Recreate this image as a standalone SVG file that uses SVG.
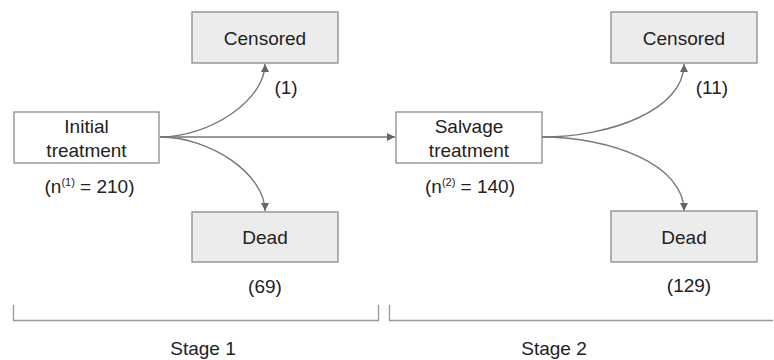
<svg xmlns="http://www.w3.org/2000/svg" width="774" height="360" viewBox="0 0 774 360">
<style>
text{font-family:"Liberation Sans",Arial,sans-serif;font-size:19px;fill:#222;text-anchor:middle}
.box{fill:#fff;stroke:#8a8a8a;stroke-width:1.3}
.out{fill:#ececec;stroke:#8a8a8a;stroke-width:1.3}
.conn{fill:none;stroke:#777;stroke-width:1.4}
.br{fill:none;stroke:#999;stroke-width:1.3}
.sup{font-size:11px}
</style>
<defs>
<marker id="ah" viewBox="0 0 10 10" refX="10" refY="5" markerWidth="8" markerHeight="8" markerUnits="userSpaceOnUse" orient="auto">
<path d="M0,0 L10,5 L0,10 Z" fill="#666"/>
</marker>
</defs>
<g id="connectors">
<path class="conn" d="M160,137 C210,137 265,100 265,64" marker-end="url(#ah)"/>
<path class="conn" d="M160,137 C210,137 265,174 265,211" marker-end="url(#ah)"/>
<path class="conn" d="M160,137 L395,137" marker-end="url(#ah)"/>
<path class="conn" d="M542,137 C610,137 684,110 684,64" marker-end="url(#ah)"/>
<path class="conn" d="M542,137 C610,137 684,164 684,211" marker-end="url(#ah)"/>
</g>
<g id="initial">
<rect class="box" x="14" y="112" width="145" height="51"/>
<text x="86.5" y="133">Initial</text>
<text x="86.5" y="156.5">treatment</text>
<text x="89.5" y="193">(n<tspan class="sup" dy="-7">(1)</tspan><tspan dy="7"> = 210)</tspan></text>
</g>
<g id="censored1">
<rect class="out" x="192" y="12" width="146" height="51"/>
<text x="265" y="44.5">Censored</text>
<text x="286" y="94">(1)</text>
</g>
<g id="dead1">
<rect class="out" x="192" y="212" width="146" height="50"/>
<text x="265" y="244">Dead</text>
<text x="265" y="292.5">(69)</text>
</g>
<g id="salvage">
<rect class="box" x="396" y="112" width="146" height="51"/>
<text x="469" y="133">Salvage</text>
<text x="469" y="156.5">treatment</text>
<text x="470" y="193">(n<tspan class="sup" dy="-7">(2)</tspan><tspan dy="7"> = 140)</tspan></text>
</g>
<g id="censored2">
<rect class="out" x="611" y="12" width="146" height="51"/>
<text x="684" y="44.5">Censored</text>
<text x="712" y="94">(11)</text>
</g>
<g id="dead2">
<rect class="out" x="611" y="211" width="146" height="51"/>
<text x="684" y="243.5">Dead</text>
<text x="689" y="292">(129)</text>
</g>
<g id="stage1">
<path class="br" d="M13.5,305 V320.5 H378.5 V305"/>
<text x="203" y="355">Stage 1</text>
</g>
<g id="stage2">
<path class="br" d="M389.5,305 V320.5 H773"/>
<text x="554" y="355">Stage 2</text>
</g>
</svg>
